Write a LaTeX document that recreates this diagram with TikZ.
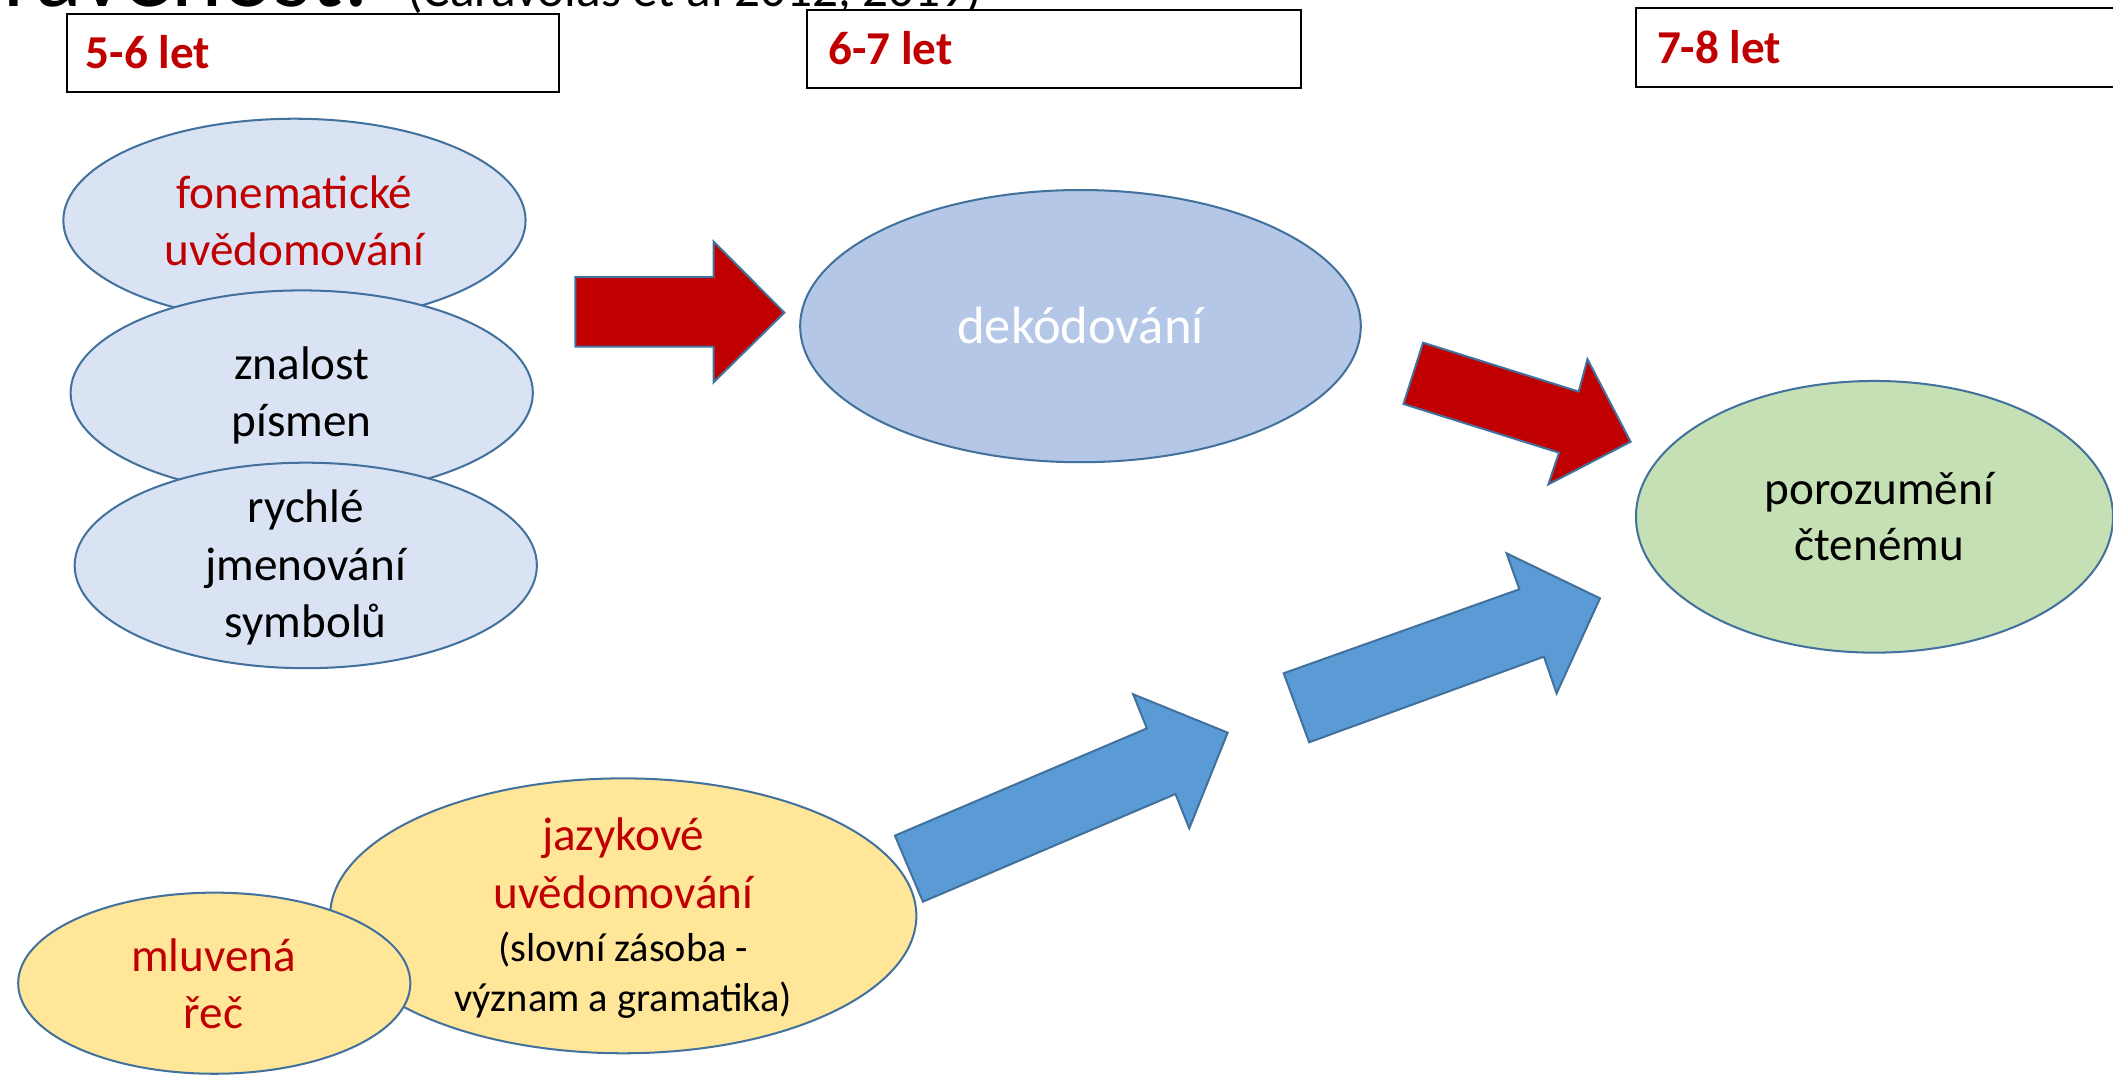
\documentclass[tikz,border=0pt]{standalone}
\usepackage{fontspec}
\setmainfont{Carlito}
\usetikzlibrary{shapes.geometric}
\definecolor{edgeblue}{HTML}{41719C}
\definecolor{lightblue}{HTML}{DAE3F3}
\definecolor{midblue}{HTML}{B4C7E7}
\definecolor{lightgreen}{HTML}{C5E0B4}
\definecolor{lightyellow}{HTML}{FFE699}
\definecolor{darkred}{HTML}{C00000}
\definecolor{arrowblue}{HTML}{5B9BD5}
\tikzset{
  ell/.style={ellipse, draw=edgeblue, line width=1.5pt, inner sep=0pt},
  agebox/.style={draw=black, fill=white, line width=1.6pt},
  agelbl/.style={anchor=base west, inner sep=0pt, text=darkred, font=\fontsize{35}{42}\selectfont\bfseries},
  tx/.style={anchor=base, inner sep=0pt, font=\fontsize{35}{42}\selectfont},
  txs/.style={anchor=base, inner sep=0pt, font=\fontsize{30}{37}\selectfont},
  redarrow/.style={fill=darkred, draw=edgeblue, line width=1.5pt, line join=miter},
  bluearrow/.style={fill=arrowblue, draw=edgeblue, line width=1.5pt, line join=miter}
}
\begin{document}
\begin{tikzpicture}[x=1pt, y=-1pt]
\useasboundingbox (0,0) rectangle (1568,797.7);
\clip (0,0) rectangle (1568,797.7);
% title (cut off at the top)
\node[anchor=base east, inner sep=0pt, font=\fontsize{72}{86}\selectfont] (title) at (274,4.5) {Připravenost:};
\node[anchor=base west, inner sep=0pt, font=\fontsize{38}{46}\selectfont] (source) at (302,5) {(Caravolas et al 2012, 2019)};
% age boxes
\draw[agebox] (49.5,10.4) rectangle (415,68);
\draw[agebox] (599,7.4) rectangle (965.4,65.5);
\draw[agebox] (1214,6.2) rectangle (1600,64.3);
\node[agelbl] (age1) at (63.5,50.7) {5-6 let};
\node[agelbl] (age2) at (614.5,48.2) {6-7 let};
\node[agelbl] (age3) at (1229.4,47) {7-8 let};
% left stack of ellipses
\node[ell, fill=lightblue, minimum width=343pt, minimum height=151pt] (fon) at (218.5,163.6) {};
\node[tx, text=darkred] (fon1) at (218.5,154.6) {fonematické};
\node[tx, text=darkred] (fon2) at (218.5,196.9) {uvědomování};
\node[ell, fill=lightblue, minimum width=343pt, minimum height=152pt] (zna) at (223.9,291.5) {};
\node[tx] (zna1) at (223.9,281.5) {znalost};
\node[tx] (zna2) at (223.9,324.1) {písmen};
\node[ell, fill=lightblue, minimum width=343pt, minimum height=152.5pt] (ryc) at (226.9,419.6) {};
\node[tx] (ryc1) at (226.9,388) {rychlé};
\node[tx] (ryc2) at (226.9,430.6) {jmenování};
\node[tx] (ryc3) at (226.9,473.2) {symbolů};
% decoding
\node[ell, fill=midblue, minimum width=416pt, minimum height=202pt] (dek) at (801.8,242) {};
\node[anchor=base, inner sep=0pt, text=white, font=\fontsize{39}{47}\selectfont] (dek1) at (801.8,254.6) {dekódování};
% comprehension
\node[ell, fill=lightgreen, minimum width=354pt, minimum height=201.6pt] (por) at (1391,383.5) {};
\node[tx] (por1) at (1394.5,374) {porozumění};
\node[tx] (por2) at (1394.5,415.6) {čtenému};
% language
\node[ell, fill=lightyellow, minimum width=435pt, minimum height=204pt] (jaz) at (462.5,679.6) {};
\node[tx, text=darkred] (jaz1) at (462.5,630.8) {jazykové};
\node[tx, text=darkred] (jaz2) at (462.5,674) {uvědomování};
\node[txs] (jaz3) at (462.5,713.6) {(slovní zásoba -};
\node[txs] (jaz4) at (462.5,750.7) {význam a gramatika)};
\node[ell, fill=lightyellow, minimum width=291pt, minimum height=134.4pt] (mlu) at (159,729.6) {};
\node[tx, text=darkred] (mlu1) at (158.5,721) {mluvená};
\node[tx, text=darkred] (mlu2) at (158.5,763) {řeč};
% block arrows
\draw[redarrow] (427,205.7) -- (529.6,205.7) -- (529.6,179.3) -- (582,232) -- (529.6,283.6) -- (529.6,257.3) -- (427,257.3) -- cycle;
\draw[redarrow] (1056,254.3) -- (1171.5,290.6) -- (1178,266.6) -- (1210,327.8) -- (1149,359.4) -- (1156.9,335.9) -- (1041.5,299.8) -- cycle;
\draw[bluearrow] (664.1,620.1) -- (851.1,540.5) -- (840.9,515.2) -- (911,543.7) -- (882.5,614.7) -- (872.3,589.2) -- (684.9,669.1) -- cycle;
\draw[bluearrow] (952.6,499.6) -- (1127.5,437.3) -- (1118,410.6) -- (1187.3,444) -- (1155.1,514.5) -- (1145.7,487.3) -- (971.5,550.8) -- cycle;
\end{tikzpicture}
\end{document}
